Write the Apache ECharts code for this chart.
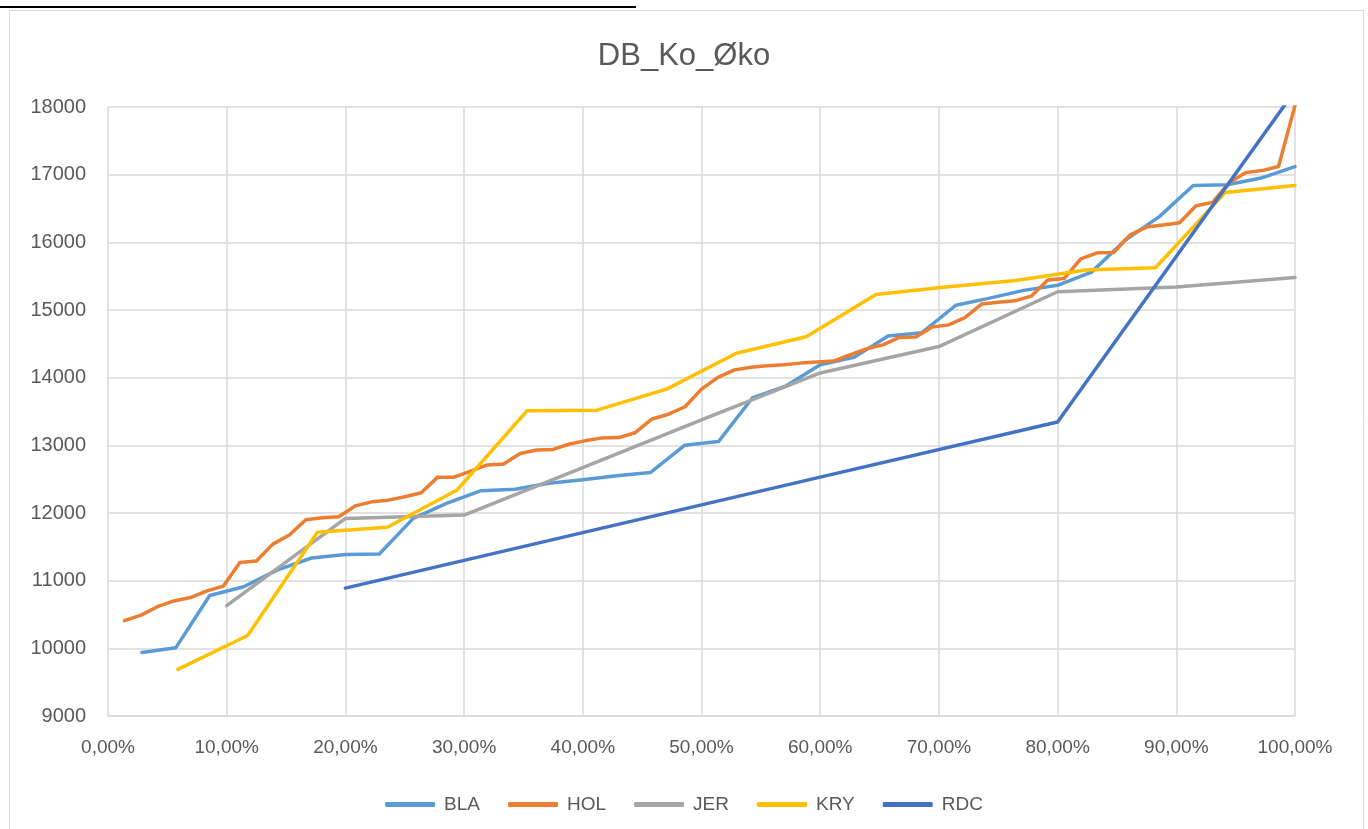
<!DOCTYPE html>
<html>
<head>
<meta charset="utf-8">
<script src="https://cdn.jsdelivr.net/npm/echarts@6/dist/echarts.min.js"></script>
<style>
html,body{margin:0;padding:0;background:#fff;}
#chart{width:1368px;height:829px;}
</style>
</head>
<body>
<div id="chart"></div>
<script>
const seriesNames = ['BLA', 'HOL', 'JER', 'KRY', 'RDC'];
const seriesColors = ['#5B9BD5', '#ED7D31', '#A5A5A5', '#FFC000', '#4472C4'];

// Values sorted ascending; x position = rank / count (cumulative share)
const BLA = [9940, 10010, 10780, 10910, 11160, 11335, 11385, 11395, 11920, 12145,
  12330, 12350, 12440, 12490, 12550, 12600, 13000, 13055, 13700, 13880,
  14190, 14300, 14615, 14665, 15070, 15175, 15290, 15365, 15560, 16035,
  16380, 16840, 16850, 16950, 17120];
const HOL = [10410, 10490, 10615, 10700, 10750, 10850, 10920, 11270, 11290, 11540,
  11675, 11900, 11930, 11945, 12105, 12165, 12190, 12240, 12300, 12530,
  12530, 12620, 12710, 12725, 12880, 12930, 12940, 13020, 13070, 13110,
  13115, 13190, 13390, 13460, 13570, 13830, 14005, 14115, 14155, 14175,
  14190, 14215, 14230, 14245, 14335, 14425, 14485, 14595, 14600, 14750,
  14780, 14890, 15090, 15115, 15135, 15205, 15445, 15465, 15755, 15845,
  15850, 16110, 16225, 16255, 16290, 16540, 16590, 16880, 17030, 17060,
  17120, 18020];
const JER = [10630, 11920, 11970, 12670, 13375, 14070, 14460, 15270, 15340, 15480];
const KRY = [9690, 10190, 11715, 11790, 12340, 13510, 13520, 13830, 14360, 14605,
  15230, 15340, 15435, 15590, 15625, 16735, 16840];
const RDC = [10890, 11710, 12530, 13345, 18240];

const allValues = [BLA, HOL, JER, KRY, RDC];

const yMin = 9000, yMax = 18000, yStep = 1000;
const xMin = 0, xMax = 100, xStep = 10;

function toPoints(arr) {
  const n = arr.length;
  return arr.map((v, i) => [(i + 1) / n * 100, v]);
}

const txt = '#595959';
const gridCol = '#D9D9D9';
const fontFam = '"Liberation Sans", Arial, sans-serif';

const chart = echarts.init(document.getElementById('chart'), null, {renderer: 'canvas'});
chart.setOption({
  animation: false,
  backgroundColor: '#ffffff',
  title: {
    text: 'DB_Ko_Øko',
    left: 'center',
    top: 36,
    textStyle: {fontFamily: fontFam, fontSize: 31, fontWeight: 'normal', color: txt}
  },
  graphic: [
    {type: 'rect', left: 7, top: 8, shape: {x: 0, y: 0, width: 1354, height: 840},
     style: {fill: 'none', stroke: gridCol, lineWidth: 1}, silent: true, z: -1},
    {type: 'rect', left: 0, top: 6, shape: {x: 0, y: 0, width: 636, height: 2},
     style: {fill: '#000'}, silent: true}
  ],
  legend: {
    data: seriesNames,
    top: 790,
    left: 'center',
    icon: 'roundRect',
    itemWidth: 50,
    itemHeight: 5,
    itemGap: 28,
    textStyle: {fontFamily: fontFam, fontSize: 19, color: txt, padding: [0, 0, 0, 4]}
  },
  grid: {left: 108, right: 73, top: 107, bottom: 113, containLabel: false},
  xAxis: {
    type: 'value',
    min: xMin, max: xMax, interval: xStep,
    axisLine: {show: true, lineStyle: {color: gridCol, width: 1.5}},
    axisTick: {show: false},
    splitLine: {show: true, lineStyle: {color: gridCol, width: 1.5}},
    axisLabel: {
      margin: 22,
      fontFamily: fontFam, fontSize: 19, color: txt,
      formatter: v => v.toFixed(2).replace('.', ',') + '%'
    }
  },
  yAxis: {
    type: 'value',
    min: yMin, max: yMax, interval: yStep,
    axisLine: {show: false},
    axisTick: {show: false},
    splitLine: {show: true, lineStyle: {color: gridCol, width: 1.5}},
    axisLabel: {margin: 22, fontFamily: fontFam, fontSize: 20, color: txt,
      formatter: v => String(v)}
  },
  series: seriesNames.map((name, k) => ({
    name: name,
    type: 'line',
    data: toPoints(allValues[k]),
    symbol: 'none',
    clip: true,
    color: seriesColors[k],
    lineStyle: {width: 3.5, color: seriesColors[k], cap: 'round', join: 'round'}
  }))
});
</script>
</body>
</html>
